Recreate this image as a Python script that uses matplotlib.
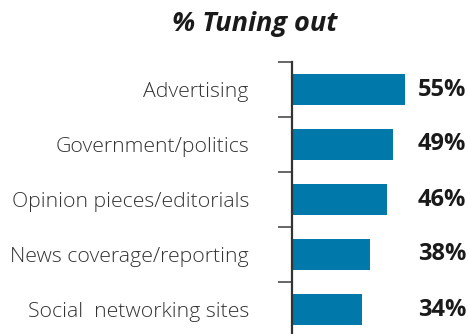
import matplotlib
matplotlib.use("Agg")
import matplotlib.pyplot as plt
import numpy as np

categories = ["Advertising", "Government/politics", "Opinion pieces/editorials",
              "News coverage/reporting", "Social  networking sites"]
values = [55, 49, 46, 38, 34]
title = "% Tuning out"

bar_color = "#0078AA"
text_color = "#333333"

fig = plt.figure(figsize=(4.68, 3.34), dpi=100)
ax = fig.add_axes([292 / 468, -3 / 334, 176 / 468, 275 / 334])

y = np.arange(len(categories))
ax.barh(y, values, height=0.56, color=bar_color)
ax.set_xlim(0, 176 / 2.06)
ax.set_ylim(len(categories) - 0.5, -0.5)

for s in ["top", "right", "bottom"]:
    ax.spines[s].set_visible(False)
ax.spines["left"].set_color("#333333")
ax.spines["left"].set_linewidth(1.6)
ax.set_xticks([])

ax.set_yticks(y)
ax.set_yticklabels(categories, fontfamily="Open Sans", fontweight="light",
                   fontsize=15.3, color=text_color)
ax.tick_params(axis="y", which="major", length=0, pad=31)
ax.set_yticks(np.arange(-0.5, len(categories) - 0.5, 1.0), minor=True)
ax.tick_params(axis="y", which="minor", length=10, width=1.4,
               color="#666666", direction="out")

label_x = (418 - 292) / 2.06
for yi, v in zip(y, values):
    ax.text(label_x, yi, f"{v}%", ha="left", va="center",
            fontfamily="Open Sans", fontweight="bold", fontsize=17, color="#1a1a1a")

fig.text(255 / 468, 1 - 24 / 334, title, ha="center", va="center",
         fontfamily="Open Sans", fontweight="bold", style="italic",
         fontsize=19.5, color="#1a1a1a")

fig.savefig("out.png", dpi=100)
